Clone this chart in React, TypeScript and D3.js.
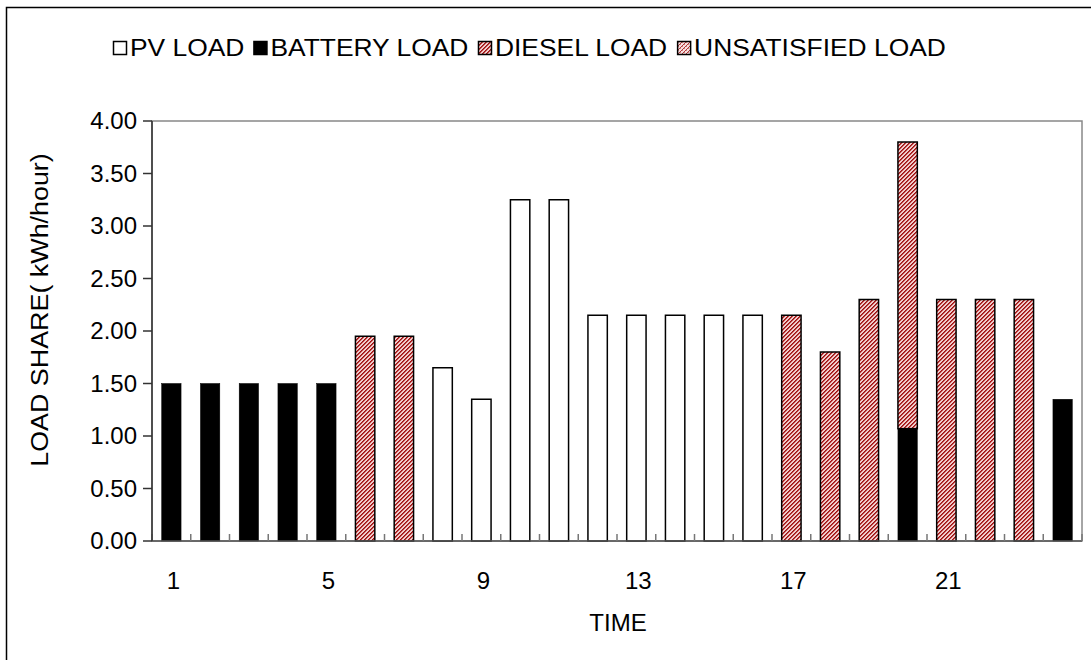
import React from "react";
import * as d3 from "d3";

// Hourly load share (kWh/hour) by supply source
const hours = [1, 2, 3, 4, 5, 6, 7, 8, 9, 10, 11, 12, 13, 14, 15, 16, 17, 18, 19, 20, 21, 22, 23, 24];
const pvLoad = [0, 0, 0, 0, 0, 0, 0, 1.65, 1.35, 3.25, 3.25, 2.15, 2.15, 2.15, 2.15, 2.15, 0, 0, 0, 0, 0, 0, 0, 0];
const batteryLoad = [1.5, 1.5, 1.5, 1.5, 1.5, 0, 0, 0, 0, 0, 0, 0, 0, 0, 0, 0, 0, 0, 0, 1.07, 0, 0, 0, 1.35];
const dieselLoad = [0, 0, 0, 0, 0, 1.95, 1.95, 0, 0, 0, 0, 0, 0, 0, 0, 0, 2.15, 1.8, 2.3, 2.73, 2.3, 2.3, 2.3, 0];
const unsatisfiedLoad = [0, 0, 0, 0, 0, 0, 0, 0, 0, 0, 0, 0, 0, 0, 0, 0, 0, 0, 0, 0, 0, 0, 0, 0];
const seriesNames = ["PV LOAD", "BATTERY LOAD", "DIESEL LOAD", "UNSATISFIED LOAD"];
const yTicks = [0, 0.5, 1, 1.5, 2, 2.5, 3, 3.5, 4];
const xTickLabels = [1, 5, 9, 13, 17, 21];

const W = 1091;
const H = 660;
const FONT = "'Liberation Sans', Arial, sans-serif";
const FS = 24;
const LEGEND_STRETCH = 1.1; // horizontal stretch of legend lettering
const TITLE_STRETCH = 1.12; // stretch of the rotated axis title along its baseline

const fills = ["#ffffff", "#000000", "url(#dieselHatch)", "url(#unsatHatch)"];

function textWidth(s: string, size: number) {
  const c = document.createElement("canvas").getContext("2d");
  if (!c) return s.length * size * 0.6;
  c.font = `${size}px ${FONT}`;
  return c.measureText(s).width;
}

export default function App() {
  const left = 152, right = 1082, top = 121, bottom = 541;

  const rows = hours.map((h, i) => ({
    hour: h,
    pv: pvLoad[i],
    battery: batteryLoad[i],
    diesel: dieselLoad[i],
    unsat: unsatisfiedLoad[i],
  }));
  const keys = ["pv", "battery", "diesel", "unsat"];
  const stacked = d3.stack<any>().keys(keys)(rows);

  const x = d3.scaleBand<number>().domain(hours).range([left, right]).paddingInner(0.5).paddingOuter(0.25);
  const y = d3.scaleLinear().domain([0, 4]).range([bottom, top]);

  // legend layout: key box, then stretched label
  let lx = 113;
  const legendItems = seriesNames.map((name, i) => {
    const item = { name, x: lx, fill: fills[i] };
    lx += 13 + 4 + textWidth(name, FS) * LEGEND_STRETCH + 9;
    return item;
  });

  const step = x.step();
  const boundaries = d3.range(hours.length + 1).map((i) => left + i * step);

  return (
    <svg width={W} height={H} style={{ position: "absolute", left: 0, top: 0, background: "#fff" }} fontFamily={FONT}>
      <defs>
        <pattern id="dieselHatch" patternUnits="userSpaceOnUse" width={4} height={4}>
          <rect width={4} height={4} fill="#f0cccc" />
          <rect x={0} y={3} width={1} height={1} fill="#991515" />
          <rect x={1} y={2} width={1} height={1} fill="#991515" />
          <rect x={2} y={1} width={1} height={1} fill="#991515" />
          <rect x={3} y={0} width={1} height={1} fill="#991515" />
          <rect x={1} y={3} width={1} height={1} fill="#c03c3c" />
          <rect x={2} y={2} width={1} height={1} fill="#c03c3c" />
          <rect x={3} y={1} width={1} height={1} fill="#c03c3c" />
          <rect x={0} y={0} width={1} height={1} fill="#c03c3c" />
        </pattern>
        <pattern id="unsatHatch" patternUnits="userSpaceOnUse" width={4} height={4}>
          <rect width={4} height={4} fill="#f6e0e0" />
          <rect x={0} y={3} width={1} height={1} fill="#b03a3a" />
          <rect x={1} y={2} width={1} height={1} fill="#b03a3a" />
          <rect x={2} y={1} width={1} height={1} fill="#b03a3a" />
          <rect x={3} y={0} width={1} height={1} fill="#b03a3a" />
          <rect x={2} y={2} width={1} height={1} fill="#d88080" />
          <rect x={0} y={0} width={1} height={1} fill="#d88080" />
        </pattern>
      </defs>

      {/* outer chart frame */}
      <path d={`M6.5,${H} V7.5 H${W}`} fill="none" stroke="#000" strokeWidth={1.5} />

      {/* plot area frame */}
      <rect x={left} y={top} width={right - left} height={bottom - top} fill="none" stroke="#888" strokeWidth={1.5} />

      {/* bars */}
      {stacked.map((layer, si) => (
        <g key={layer.key}>
          {layer.map((d, i) => {
            const h = y(d[0]) - y(d[1]);
            if (h <= 0) return null;
            const isBattery = layer.key === "battery";
            return (
              <rect
                key={i}
                x={x(hours[i])!}
                y={y(d[1])}
                width={x.bandwidth()}
                height={h}
                fill={fills[si]}
                stroke="#000"
                strokeWidth={isBattery ? 0.5 : 1.5}
              />
            );
          })}
        </g>
      ))}

      {/* x axis */}
      <line x1={left} x2={right} y1={bottom} y2={bottom} stroke="#555" strokeWidth={1.5} />
      {boundaries.map((bx, i) => (
        <line key={i} x1={bx} x2={bx} y1={bottom} y2={bottom - 7} stroke="#777" strokeWidth={1.5} />
      ))}
      {xTickLabels.map((t) => (
        <text key={t} x={x(t)! + x.bandwidth() / 2 + 2} y={589} fontSize={FS} textAnchor="middle" fill="#000">
          {t}
        </text>
      ))}
      <text x={618} y={631} fontSize={FS} textAnchor="middle" fill="#000">TIME</text>

      {/* y axis */}
      <line x1={left} x2={left} y1={top} y2={bottom} stroke="#333" strokeWidth={1.5} />
      {yTicks.map((t) => (
        <g key={t}>
          <line x1={left - 9} x2={left} y1={y(t)} y2={y(t)} stroke="#333" strokeWidth={1.5} />
          <text x={137} y={y(t)} dy="0.35em" fontSize={FS} textAnchor="end" fill="#000">
            {t.toFixed(2)}
          </text>
        </g>
      ))}
      <text transform={`translate(48,310) rotate(-90) scale(${TITLE_STRETCH},1)`} fontSize={FS} textAnchor="middle" fill="#000">
        LOAD SHARE( kWh/hour)
      </text>

      {/* legend */}
      {legendItems.map((it) => (
        <g key={it.name}>
          <rect x={it.x + 0.5} y={41.5} width={13} height={13} fill={it.fill} stroke="#000" strokeWidth={1.5} />
          <text transform={`translate(${it.x + 17},56) scale(${LEGEND_STRETCH},1)`} fontSize={FS} fill="#000">
            {it.name}
          </text>
        </g>
      ))}
    </svg>
  );
}
